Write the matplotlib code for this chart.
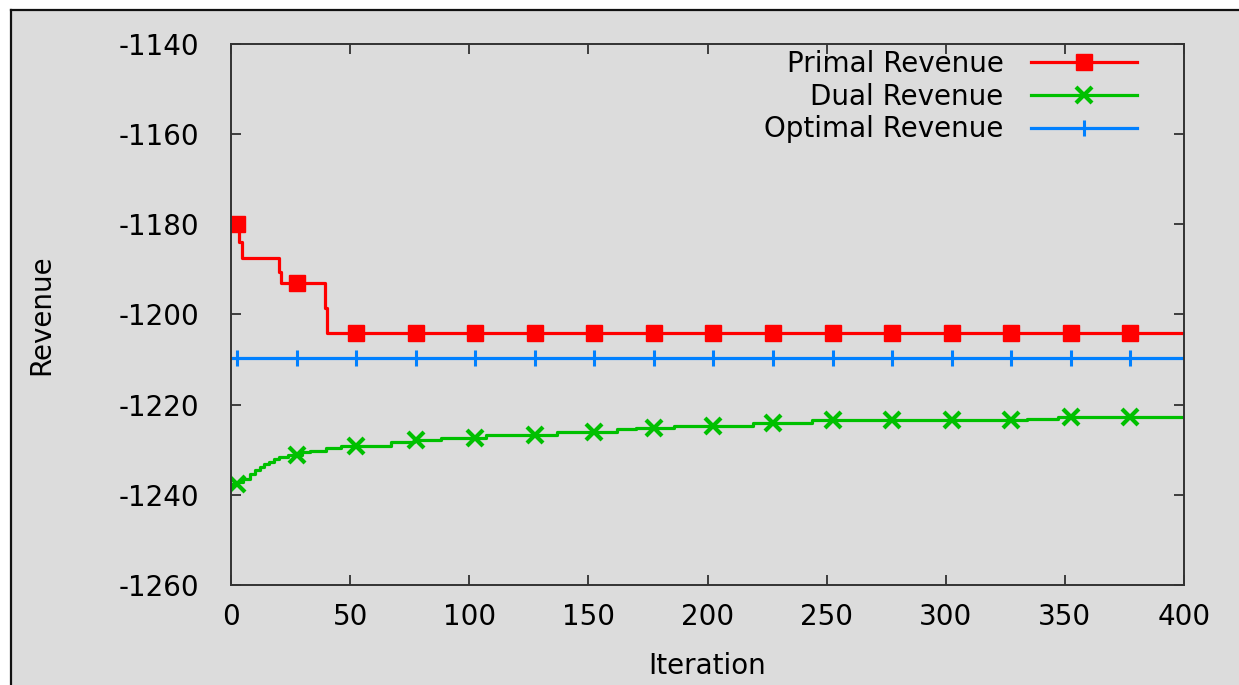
import matplotlib
matplotlib.use("Agg")
import matplotlib.pyplot as plt
from matplotlib.lines import Line2D
from matplotlib.patches import Rectangle
import numpy as np

# datos (escalones: iteracion donde cambia, valor nuevo)
primal_iter = [0, 3.5, 4.5, 20, 21, 39.5, 40.5, 400]
primal_rev = [-1180, -1184, -1187.5, -1190.5, -1193, -1198.5, -1204, -1204]

dual_iter = [0, 3, 5, 8, 10, 12, 14, 16, 18, 20, 24, 30, 33, 40, 46,
             67, 77, 88, 107, 137, 162, 170, 186, 219, 244, 334, 347, 400]
dual_rev = [-1237.6, -1237.2, -1236.4, -1235.3, -1234.5, -1233.8, -1233.2,
            -1232.7, -1232.1, -1231.5, -1231.2, -1230.6, -1230.2, -1229.6,
            -1229.2, -1228.3, -1227.8, -1227.3, -1226.7, -1226.0, -1225.4,
            -1225.2, -1224.7, -1224.0, -1223.4, -1223.1, -1222.7, -1222.7]

optimal_iter = [0, 400]
optimal_rev = [-1209.7, -1209.7]

mark_iter = np.arange(2.5, 400, 25)

xticks = [0, 50, 100, 150, 200, 250, 300, 350, 400]
yticks = [-1260, -1240, -1220, -1200, -1180, -1160, -1140]

gris = "#dcdcdc"
plt.rcParams["font.family"] = ["DejaVu Sans"]
plt.rcParams["axes.unicode_minus"] = False

fig = plt.figure(figsize=(12.39, 6.85), dpi=100, facecolor="white")
# fondo gris con borde arriba e izquierda
fig.patches.append(Rectangle((11 / 1239, 0), 1, 1 - 10 / 685, transform=fig.transFigure,
                             facecolor=gris, edgecolor="none", zorder=-10))
fig.lines.append(Line2D([11 / 1239, 11 / 1239], [0, 1 - 10 / 685], transform=fig.transFigure,
                        color="#111111", lw=1.6, zorder=-5))
fig.lines.append(Line2D([11 / 1239, 1], [1 - 10 / 685, 1 - 10 / 685], transform=fig.transFigure,
                        color="#111111", lw=1.6, zorder=-5))

ax = fig.add_axes([231 / 1239, 1 - 585 / 685, (1184 - 231) / 1239, (585 - 44) / 685])
ax.set_facecolor(gris)


def valores_en(iters, vals, marcas):
    idx = np.searchsorted(iters, marcas, side="right") - 1
    return np.array(vals)[idx]


series = [
    (primal_iter, primal_rev, "#ff0000", "s", 11, 1, "Primal Revenue"),
    (dual_iter, dual_rev, "#00c000", "x", 11, 3, "Dual Revenue"),
    (optimal_iter, optimal_rev, "#0080ff", "|", 11, 2.2, "Optimal Revenue"),
]
handles = []
for it, v, c, m, ms, mew, lab in series:
    ax.plot(it, v, color=c, lw=2.3, drawstyle="steps-post")
    ax.plot(mark_iter, valores_en(it, v, mark_iter), ls="none", marker=m,
            ms=ms, mew=mew, color=c)
    handles.append(Line2D([], [], color=c, lw=2.3, marker=m, ms=ms, mew=mew, label=lab))

ax.set_xlim(0, 400)
ax.set_ylim(-1260, -1140)
ax.set_xticks(xticks)
ax.set_yticks(yticks)
ax.tick_params(direction="in", length=7, width=1.2, color="#222222",
               top=True, right=True, labelsize=20)
ax.tick_params(axis="y", pad=23)
ax.tick_params(axis="x", pad=13)
for s in ax.spines.values():
    s.set_linewidth(1.4)
    s.set_color("#333333")

ax.set_xlabel("Iteration", fontsize=20)
ax.set_ylabel("Revenue", fontsize=20)
ax.xaxis.set_label_coords(0.5, -0.124)
ax.yaxis.set_label_coords(-0.1847, 0.5)

ax.legend(handles=handles, loc="upper right", bbox_to_anchor=(0.974, 1.03),
          frameon=False, markerfirst=False, fontsize=20, handlelength=3.8,
          handletextpad=1.0, labelspacing=0.17, borderpad=0.3)

fig.savefig("out.png", dpi=100, facecolor="white")
